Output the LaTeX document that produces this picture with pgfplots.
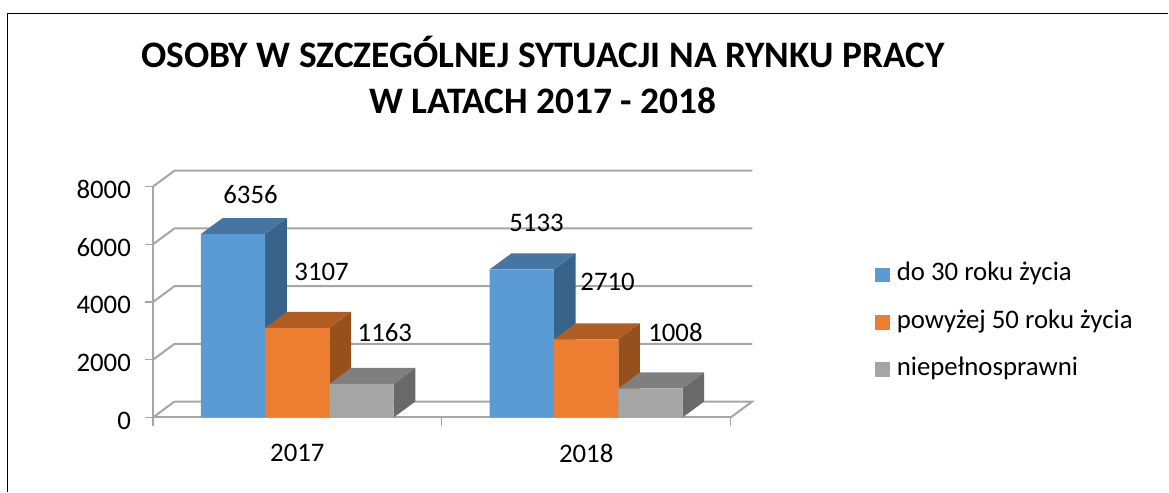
\documentclass[border=0pt]{standalone}
\usepackage{fontspec}
\setmainfont{Carlito}
\usepackage{pgfplots}
\pgfplotsset{compat=1.18}

\definecolor{blueF}{HTML}{5B9BD5}
\definecolor{blueT}{HTML}{4675A1}
\definecolor{blueS}{HTML}{37628A}
\definecolor{orangeF}{HTML}{ED7D31}
\definecolor{orangeT}{HTML}{B15C21}
\definecolor{orangeS}{HTML}{95501D}
\definecolor{grayF}{HTML}{A5A5A5}
\definecolor{grayT}{HTML}{7F7F7F}
\definecolor{grayS}{HTML}{696969}
\definecolor{gridc}{HTML}{A6A6A6}

\pgfplotsset{
  wall/.style={draw=gridc, line width=1pt, forget plot},
  face/.style={fill=#1, draw=none, forget plot},
  front/.style={ybar, bar shift=0pt, bar width=0.2225, fill=#1, draw=none},
}

\begin{document}
\begin{tikzpicture}
% page is 1169x492 px at 0.5pt per px
\path (0pt,0pt) rectangle (584.5pt,-246pt);
\draw[line width=0.6pt] (3.6pt,-246pt) -- (3.6pt,-6.9pt) -- (584.5pt,-6.9pt);
\begin{axis}[
  at={(76.5pt,-208.85pt)},
  anchor=south west,
  scale only axis,
  width=289pt,
  height=115.5pt,
  xmin=0, xmax=2,
  ymin=0, ymax=8000,
  clip=false,
  axis x line*=bottom,
  axis y line*=left,
  axis line style={draw=gridc, line width=1pt, -},
  xtick={0.5,1.5},
  xticklabels={2017,2018},
  minor xtick={0,1,2},
  ytick={0,2000,4000,6000,8000},
  major x tick style={draw=none},
  minor x tick style={draw=gridc, line width=0.6pt},
  tick align=outside,
  minor tick length=4.5pt,
  major tick length=4pt,
  y tick style={draw=gridc, line width=0.6pt},
  /pgf/number format/assume math mode=true,
  /pgf/number format/1000 sep={},
  tick label style={font=\fontsize{13.4}{16}\selectfont},
  xticklabel style={yshift=-6pt},
  yticklabel style={xshift=-3.5pt, yshift=-1.5pt},
  title={OSOBY W SZCZEGÓLNEJ SYTUACJI NA RYNKU PRACY\\W LATACH 2017 - 2018},
  title style={at={(axis description cs:0.675,1.432)}, anchor=center, align=center,
    font=\fontsize{18.7}{23}\selectfont\bfseries},
  legend style={at={(axis description cs:1.249,0.412)}, anchor=west, draw=none, fill=none,
    inner sep=0pt, row sep=11.7pt,
    font=\fontsize{13.4}{16}\selectfont,
    nodes={inner sep=0pt, text height=9pt, text depth=3pt}},
  legend cell align=left,
  legend image code/.code={\fill[#1] (0pt,-3.75pt) rectangle (7.5pt,3.75pt); \path (0pt,0pt) -- (11pt,0pt);},
]
% back walls and floor
\addplot[wall] coordinates {(2,0) (2.075,554) (0.075,554) (0,0)};
\addplot[wall] coordinates {(0,2000) (0.075,2554) (2.075,2554)};
\addplot[wall] coordinates {(0,4000) (0.075,4554) (2.075,4554)};
\addplot[wall] coordinates {(0,6000) (0.075,6554) (2.075,6554)};
\addplot[wall] coordinates {(0,8000) (0.075,8554) (2.075,8554)};

% do 30 roku zycia
\addplot[face=blueS] coordinates {(0.3885,0) (0.4635,554) (0.4635,6910) (0.3885,6356)} -- cycle;
\addplot[face=blueT] coordinates {(0.166,6356) (0.3885,6356) (0.4635,6910) (0.241,6910)} -- cycle;
\addplot[face=blueS] coordinates {(1.3885,0) (1.4635,554) (1.4635,5687) (1.3885,5133)} -- cycle;
\addplot[face=blueT] coordinates {(1.166,5133) (1.3885,5133) (1.4635,5687) (1.241,5687)} -- cycle;
\addplot[front=blueF] coordinates {(0.27725,6356) (1.27725,5133)};
\addlegendentry{do 30 roku życia}

% powyzej 50 roku zycia
\addplot[face=orangeS] coordinates {(0.611,0) (0.686,554) (0.686,3661) (0.611,3107)} -- cycle;
\addplot[face=orangeT] coordinates {(0.3885,3107) (0.611,3107) (0.686,3661) (0.4635,3661)} -- cycle;
\addplot[face=orangeS] coordinates {(1.611,0) (1.686,554) (1.686,3264) (1.611,2710)} -- cycle;
\addplot[face=orangeT] coordinates {(1.3885,2710) (1.611,2710) (1.686,3264) (1.4635,3264)} -- cycle;
\addplot[front=orangeF] coordinates {(0.49975,3107) (1.49975,2710)};
\addlegendentry{powyżej 50 roku życia}

% niepelnosprawni
\addplot[face=grayS] coordinates {(0.8335,0) (0.9085,554) (0.9085,1717) (0.8335,1163)} -- cycle;
\addplot[face=grayT] coordinates {(0.611,1163) (0.8335,1163) (0.9085,1717) (0.686,1717)} -- cycle;
\addplot[face=grayS] coordinates {(1.8335,0) (1.9085,554) (1.9085,1562) (1.8335,1008)} -- cycle;
\addplot[face=grayT] coordinates {(1.611,1008) (1.8335,1008) (1.9085,1562) (1.686,1562)} -- cycle;
\addplot[front=grayF] coordinates {(0.72225,1163) (1.72225,1008)};
\addlegendentry{niepełnosprawni}

% data labels
\addplot[draw=none, forget plot, mark=none, point meta=explicit symbolic,
  nodes near coords,
  every node near coord/.append style={anchor=center, inner sep=0pt, text=black,
    font=\fontsize{13.4}{16}\selectfont}]
  table[meta=label] {
x y label
0.338 7712 6356
0.584 5056 3107
0.803 2933 1163
1.328 6743 5133
1.574 4710 2710
1.809 2933 1008
};
\end{axis}
\end{tikzpicture}
\end{document}
